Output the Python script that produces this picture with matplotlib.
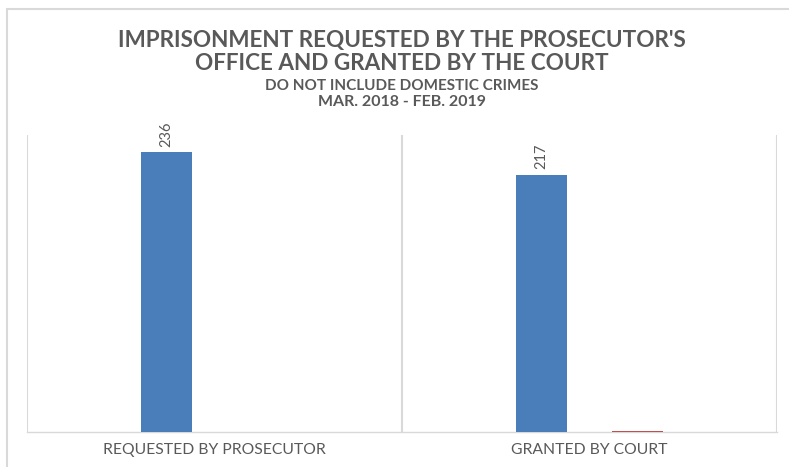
import matplotlib.pyplot as plt
from matplotlib.patches import Rectangle
import numpy as np

# data
categories = ["REQUESTED BY PROSECUTOR", "GRANTED BY COURT"]
imprisonment = [236, 217]
other = [0, 1]
bar_labels = ["236", "217"]

title_lines = ["IMPRISONMENT REQUESTED BY THE PROSECUTOR'S",
               "OFFICE AND GRANTED BY THE COURT"]
subtitle_lines = ["DO NOT INCLUDE DOMESTIC CRIMES", "MAR. 2018 - FEB. 2019"]

blue = '#4a7ebb'
red = '#c0504d'
grid_c = '#d9d9d9'
text_c = '#595959'

plt.rcParams['font.family'] = ['Lato', 'DejaVu Sans']

fig = plt.figure(figsize=(7.89, 4.67), dpi=100)
W, H = 789, 467
ax = fig.add_axes([27 / W, (H - 432) / H, 750 / W, 297 / H])

x = np.arange(len(categories))
bw = 0.136
off = 0.129
ax.bar(x - off, imprisonment, width=bw, color=blue, zorder=3)
ax.bar(x + off, other, width=bw, color=red, zorder=4)

for xi, v, lab in zip(x, imprisonment, bar_labels):
    ax.annotate(lab, (xi - off, v), xytext=(0, 4), textcoords='offset points',
                rotation=90, ha='center', va='bottom', color=text_c, fontsize=10.5)

ax.set_xlim(-0.5, len(categories) - 0.5)
ax.set_ylim(0, 250.5)

# category boundary lines
for b in np.arange(-0.5, len(categories), 1.0):
    ax.axvline(b, color=grid_c, lw=1.5, zorder=1)

for s in ['top', 'left', 'right']:
    ax.spines[s].set_visible(False)
ax.spines['bottom'].set_color(grid_c)
ax.spines['bottom'].set_linewidth(1.0)
ax.spines['bottom'].set_zorder(2)
ax.set_yticks([])
ax.set_xticks(x)
ax.set_xticklabels(categories, color=text_c, fontsize=11.3)
ax.tick_params(axis='x', length=0, pad=8)

# titles
cx = 402 / W
fig.text(cx, 1 - 40 / H, title_lines[0], ha='center', va='center',
         fontsize=16.2, fontweight='bold', color=text_c)
fig.text(cx, 1 - 64 / H, title_lines[1], ha='center', va='center',
         fontsize=16.2, fontweight='bold', color=text_c)
fig.text(cx, 1 - 86 / H, subtitle_lines[0], ha='center', va='center',
         fontsize=11, fontweight='bold', color=text_c)
fig.text(cx, 1 - 102 / H, subtitle_lines[1], ha='center', va='center',
         fontsize=11.5, fontweight='bold', color=text_c)

# chart border
fig.patches.append(Rectangle((7 / W, -0.1), 1.2, 1 - 9 / H + 0.1,
                             transform=fig.transFigure, fill=False,
                             edgecolor=grid_c, lw=1.5))

fig.savefig('out.png', dpi=100)
